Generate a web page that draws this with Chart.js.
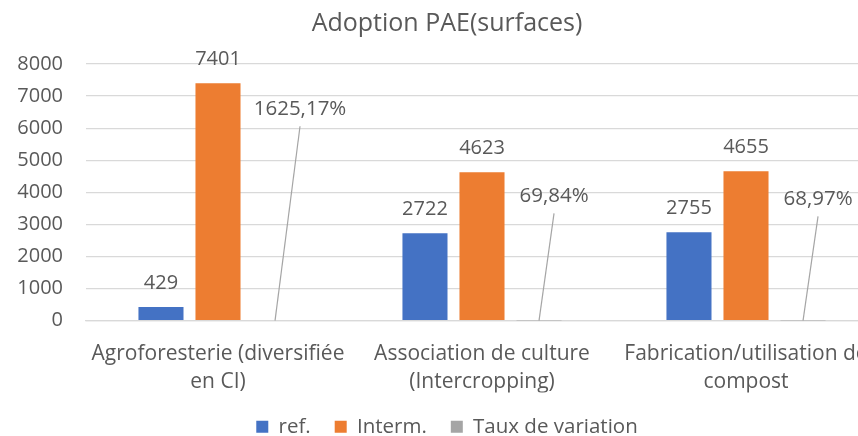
<!DOCTYPE html>
<html>
<head>
<meta charset="utf-8">
<script src="https://cdn.jsdelivr.net/npm/chart.js@4/dist/chart.umd.min.js"></script>
<style>
    html, body { margin: 0; padding: 0; overflow: hidden; background: #ffffff; }
    #wrap { width: 900px; height: 436px; position: relative; }
</style>
</head>
<body>
<div id="wrap"><canvas id="chart"></canvas></div>
<script>
// Adoption PAE (surfaces)

const categories = [
    ['Agroforesterie (diversifiée', 'en CI)'],
    ['Association de culture', '(Intercropping)'],
    ['Fabrication/utilisation de', 'compost']
];
const refValues = [429, 2722, 2755];
const intermValues = [7401, 4623, 4655];
const tauxValues = [16.2517, 0.6984, 0.6897];   // 1625,17% etc.
const yTicks = { min: 0, max: 8000, step: 1000 };

const TEXT = '#595959';
const FONT = '"Open Sans", "Noto Sans", sans-serif';

function formatPct(v) {
    return (v * 100).toFixed(2).replace('.', ',') + '%';
}

// draws value labels above bars, and the offset % labels with leader lines
const barLabels = {
    id: 'barLabels',
    afterDatasetsDraw(chart, args, opts) {
        const ctx = chart.ctx;
        const yScale = chart.scales.y;
        ctx.save();
        ctx.font = '20px ' + FONT;
        ctx.fillStyle = TEXT;
        ctx.textAlign = 'center';
        ctx.textBaseline = 'middle';

        [0, 1].forEach(di => {
            const meta = chart.getDatasetMeta(di);
            meta.data.forEach((bar, i) => {
                const v = chart.data.datasets[di].data[i];
                ctx.fillText(String(v), bar.x, bar.y - 24);
            });
        });

        ctx.font = '20.5px ' + FONT;
        const meta = chart.getDatasetMeta(2);
        meta.data.forEach((bar, i) => {
            const pos = opts.pctPos[i];
            const lx = bar.x + pos.dx;
            const ly = yScale.getPixelForValue(pos.at);
            ctx.strokeStyle = '#A5A5A5';
            ctx.lineWidth = 1.2;
            ctx.beginPath();
            ctx.moveTo(bar.x, yScale.getPixelForValue(0));
            ctx.lineTo(lx, ly + 17);
            ctx.stroke();
            ctx.fillText(formatPct(chart.data.datasets[2].data[i]), lx, ly);
        });
        ctx.restore();
    }
};

new Chart(document.getElementById('chart'), {
    type: 'bar',
    data: {
        labels: categories,
        datasets: [
            { label: 'ref.', data: refValues, backgroundColor: '#4472C4' },
            { label: 'Interm.', data: intermValues, backgroundColor: '#ED7D31' },
            { label: 'Taux de variation', data: tauxValues, backgroundColor: '#A5A5A5' }
        ]
    },
    options: {
        responsive: true,
        maintainAspectRatio: false,
        animation: false,
        datasets: {
            bar: { categoryPercentage: 0.648, barPercentage: 0.79 }
        },
        layout: { padding: { left: 16, right: 22, top: 9, bottom: -11 } },
        plugins: {
            title: {
                display: true,
                text: 'Adoption PAE(surfaces)',
                color: TEXT,
                font: { family: FONT, size: 25, weight: 'normal' },
                padding: { top: 0, bottom: 25 }
            },
            legend: {
                position: 'bottom',
                labels: {
                    color: TEXT,
                    font: { family: FONT, size: 20.5 },
                    boxWidth: 12,
                    boxHeight: 12,
                    padding: 24
                }
            },
            tooltip: { enabled: false },
            barLabels: {
                pctPos: [
                    { dx: 25, at: 6590 },
                    { dx: 15, at: 3875 },
                    { dx: 15, at: 3780 }
                ]
            }
        },
        scales: {
            y: {
                min: yTicks.min,
                max: yTicks.max,
                ticks: {
                    stepSize: yTicks.step,
                    color: TEXT,
                    padding: 23,
                    font: { family: FONT, size: 20 },
                    callback: v => String(v)
                },
                grid: { color: '#D9D9D9', lineWidth: 1.3, drawTicks: false },
                border: { display: false },
                afterFit(scale) { scale.width = 70; }
            },
            x: {
                ticks: {
                    color: TEXT,
                    maxRotation: 0,
                    autoSkip: false,
                    padding: 11,
                    font: { family: FONT, size: 21, lineHeight: 1.33 }
                },
                grid: { display: false },
                border: { color: '#D9D9D9', width: 1.3 },
                afterFit(scale) { scale.height -= 14; }
            }
        }
    },
    plugins: [barLabels]
});
</script>
</body>
</html>
